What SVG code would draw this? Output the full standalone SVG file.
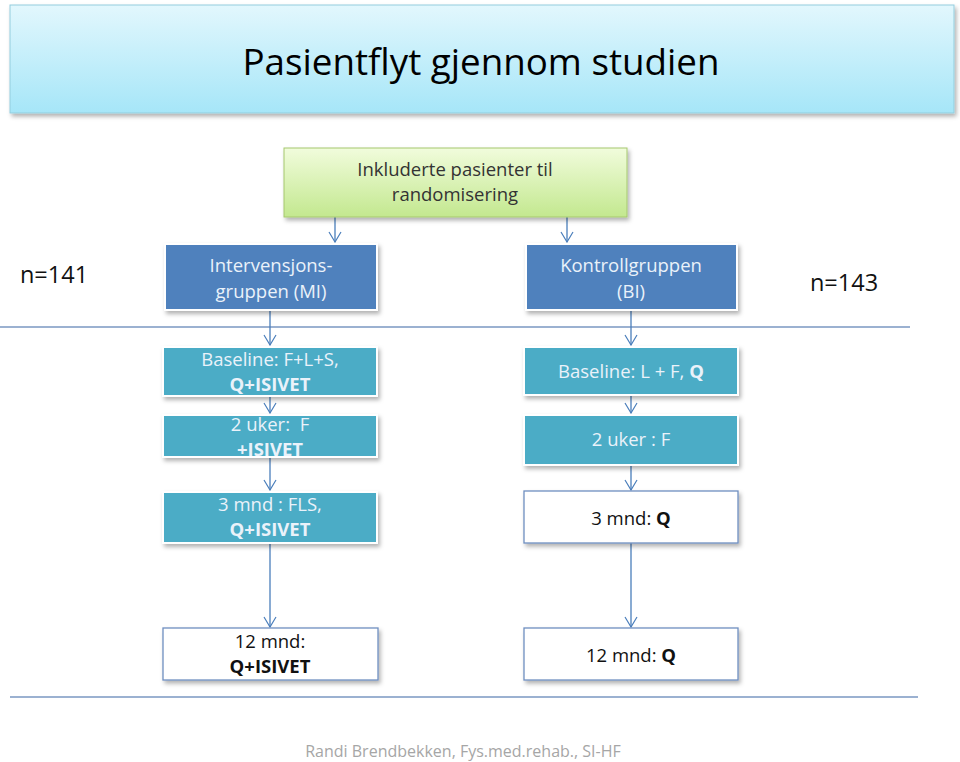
<svg xmlns="http://www.w3.org/2000/svg" width="960" height="762" viewBox="0 0 960 762">
<defs>
<linearGradient id="gTitle" x1="0" y1="0" x2="0" y2="1">
<stop offset="0" stop-color="#e2f7fd"/><stop offset="1" stop-color="#a6e6f8"/>
</linearGradient>
<linearGradient id="gGreen" x1="0" y1="0" x2="0" y2="1">
<stop offset="0" stop-color="#f1fcdc"/><stop offset="1" stop-color="#c3e88f"/>
</linearGradient>
<filter id="sh" x="-10%" y="-10%" width="125%" height="140%">
<feDropShadow dx="2" dy="3" stdDeviation="2" flood-color="#000" flood-opacity="0.3"/>
</filter>
<marker id="arr" markerWidth="12" markerHeight="14" refX="11" refY="7" orient="auto" markerUnits="userSpaceOnUse" viewBox="0 0 12 14">
<path d="M1,1 L11,7 L1,13" fill="none" stroke="#4a7ebb" stroke-width="1.2"/>
</marker>
<clipPath id="clip2u"><rect x="163" y="415" width="214" height="42"/></clipPath>
</defs>
<style>
text{font-family:"Open Sans","Liberation Sans",sans-serif;text-anchor:middle}
.w{fill:#eaf2fa;font-size:18.5px}
.k{fill:#111;font-size:18.5px}
.b{font-weight:bold}
.conn line,.conn path{stroke:#4a7ebb;stroke-width:1.3;fill:none}
.sep{stroke:#7a97c2;stroke-width:1.5}
.blue{fill:#4f81bd;stroke:#fff;stroke-width:2}
.teal{fill:#4bacc6;stroke:#fff;stroke-width:2}
.white{fill:#fff;stroke:#6f8fc0;stroke-width:1.3}
</style>
<rect width="960" height="762" fill="#fff"/>

<g id="title">
<rect x="10" y="5" width="944" height="108" fill="url(#gTitle)" stroke="#93cddd" stroke-width="1" filter="url(#sh)"/>
<text x="481" y="75" font-size="36" fill="#000" textLength="477" lengthAdjust="spacingAndGlyphs">Pasientflyt gjennom studien</text>
</g>

<g id="seps">
<line class="sep" x1="0" y1="327" x2="910" y2="327"/>
<line class="sep" x1="10" y1="697" x2="918" y2="697"/>
</g>

<g class="conn" id="connectors">
<line x1="335" y1="217" x2="335" y2="242" marker-end="url(#arr)"/>
<line x1="567" y1="217" x2="567" y2="242" marker-end="url(#arr)"/>
<line x1="270" y1="310" x2="270" y2="345" marker-end="url(#arr)"/>
<line x1="631" y1="310" x2="631" y2="345" marker-end="url(#arr)"/>
<line x1="270" y1="396" x2="270" y2="413" marker-end="url(#arr)"/>
<line x1="631" y1="395" x2="631" y2="413" marker-end="url(#arr)"/>
<line x1="270" y1="457" x2="270" y2="490" marker-end="url(#arr)"/>
<line x1="631" y1="465" x2="631" y2="490" marker-end="url(#arr)"/>
<line x1="270" y1="543" x2="270" y2="627" marker-end="url(#arr)"/>
<line x1="631" y1="543" x2="631" y2="627" marker-end="url(#arr)"/>
</g>

<g id="incl">
<rect x="284" y="148" width="343" height="69" fill="url(#gGreen)" stroke="#a6c86e" stroke-width="1" filter="url(#sh)"/>
<text x="455" y="176" font-size="18.5" fill="#333">Inkluderte pasienter til</text>
<text x="455" y="201" font-size="18.5" fill="#333">randomisering</text>
</g>

<g id="n141"><text x="54" y="283" font-size="23.5" fill="#111">n=141</text></g>
<g id="n143"><text x="844" y="291" font-size="23.5" fill="#111">n=143</text></g>

<g id="mi">
<rect class="blue" x="165" y="244" width="212" height="66" filter="url(#sh)"/>
<text class="w" x="271" y="272">Intervensjons-</text>
<text class="w" x="271" y="298">gruppen (MI)</text>
</g>

<g id="bi">
<rect class="blue" x="526" y="244" width="211" height="66" filter="url(#sh)"/>
<text class="w" x="631" y="272">Kontrollgruppen</text>
<text class="w" x="631" y="298">(BI)</text>
</g>

<g id="mi-base">
<rect class="teal" x="163" y="347" width="214" height="49" filter="url(#sh)"/>
<text class="w" x="270" y="366">Baseline: F+L+S,</text>
<text class="w b" x="270" y="391">Q+ISIVET</text>
</g>

<g id="mi-2uker">
<rect class="teal" x="163" y="415" width="214" height="42" filter="url(#sh)"/>
<g clip-path="url(#clip2u)">
<text class="w" x="270" y="431" xml:space="preserve">2 uker:  F</text>
<text class="w b" x="270" y="456">+ISIVET</text>
</g>
</g>

<g id="mi-3mnd">
<rect class="teal" x="163" y="492" width="214" height="51" filter="url(#sh)"/>
<text class="w" x="270" y="511">3 mnd : FLS,</text>
<text class="w b" x="270" y="536">Q+ISIVET</text>
</g>

<g id="mi-12mnd">
<rect class="white" x="163" y="628" width="215" height="52" filter="url(#sh)"/>
<text class="k" x="270" y="648">12 mnd:</text>
<text class="k b" x="270" y="673">Q+ISIVET</text>
</g>

<g id="bi-base">
<rect class="teal" x="524" y="347" width="214" height="48" filter="url(#sh)"/>
<text class="w" x="631" y="378">Baseline: L + F, <tspan font-weight="bold">Q</tspan></text>
</g>

<g id="bi-2uker">
<rect class="teal" x="524" y="415" width="214" height="50" filter="url(#sh)"/>
<text class="w" x="631" y="446">2 uker : F</text>
</g>

<g id="bi-3mnd">
<rect class="white" x="524" y="491" width="214" height="52" filter="url(#sh)"/>
<text class="k" x="631" y="525">3 mnd: <tspan font-weight="bold">Q</tspan></text>
</g>

<g id="bi-12mnd">
<rect class="white" x="524" y="628" width="214" height="52" filter="url(#sh)"/>
<text class="k" x="631" y="662">12 mnd: <tspan font-weight="bold">Q</tspan></text>
</g>

<g id="footer"><text x="463" y="757" font-size="16" fill="#a6a6a6">Randi Brendbekken, Fys.med.rehab., SI-HF</text></g>
</svg>
